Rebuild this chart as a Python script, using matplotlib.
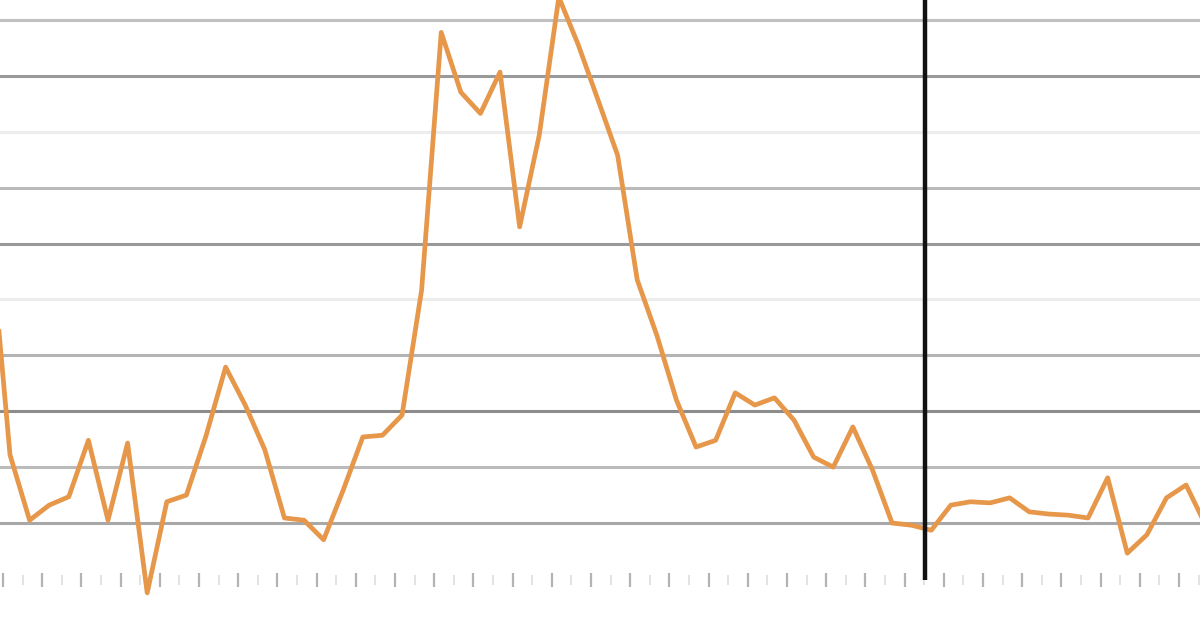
import numpy as np
import matplotlib
matplotlib.use("Agg")
import matplotlib.pyplot as plt

# series (one value per period)
values = [71.5, 32.2, 20.5, 23.2, 24.7, 34.8, 20.5, 34.3, 7.5, 23.8,
          25.0, 35.6, 47.9, 41.1, 33.1, 20.9, 20.5, 17.0, 25.9, 35.4,
          35.7, 39.3, 61.7, 107.8, 97.1, 93.3, 100.7, 73.0, 89.4, 114.1,
          105.5, 95.7, 85.8, 63.5, 53.6, 42.0, 33.6, 34.8, 43.3, 41.1,
          42.4, 38.4, 31.8, 30.0, 37.2, 29.5, 20.0, 19.6, 18.7, 23.2,
          23.8, 23.6, 24.5, 22.0, 21.6, 21.4, 20.9, 28.1, 14.6, 17.9,
          24.5, 26.8, 19.6]
periods = list(range(len(values)))

# marker line position (period index)
marker_period = 47.7

# grid levels and their shades
grid_levels = [20, 30, 40, 50, 60, 70, 80, 90, 100, 110]
grid_colors = ["#a8a8a8", "#bbbbbb", "#8c8c8c", "#b4b4b4", "#ececec",
               "#999999", "#bababa", "#ededed", "#9a9a9a", "#c0c0c0"]

fig = plt.figure(figsize=(12, 6.18), dpi=100)
ax = fig.add_axes([0, 38 / 618, 1, 580 / 618])

for lvl, col in zip(grid_levels, grid_colors):
    ax.axhline(lvl, color=col, lw=2.2, zorder=1)

ax.plot(periods, values, color="#e6974a", lw=3.4, zorder=3, clip_on=False)
ax.axvline(marker_period, color="#111111", lw=3.2, zorder=4)

ax.set_xlim(0.49, 61.71)
ax.set_ylim(9.8, 113.6)

for s in ax.spines.values():
    s.set_visible(False)

ax.set_yticks([])
ax.set_xticks(np.arange(0.643, 62, 2))
ax.set_xticks(np.arange(1.643, 62, 2), minor=True)
ax.tick_params(axis="x", which="major", direction="inout", length=10,
               width=1.6, color="#b3b3b3", labelbottom=False)
ax.tick_params(axis="x", which="minor", direction="inout", length=7,
               width=1.2, color="#dedede", labelbottom=False)

fig.savefig("out.png", dpi=100, facecolor="white")
